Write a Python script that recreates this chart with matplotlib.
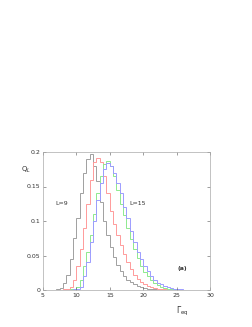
import numpy as np
import matplotlib
matplotlib.use("Agg")
from matplotlib import pyplot as plt

# histogram bin edges (Gamma_eq), width 0.5
bin_start = 6.0
bin_width = 0.5

q_l9 = [0.0, 0.0005, 0.001, 0.003, 0.010, 0.022, 0.045, 0.075, 0.105, 0.140,
        0.170, 0.190, 0.197, 0.180, 0.158, 0.128, 0.100, 0.080, 0.063, 0.048,
        0.036, 0.027, 0.020, 0.015, 0.011, 0.008, 0.006, 0.004, 0.003, 0.002,
        0.0015, 0.001, 0.0005, 0.0005, 0.0, 0.0, 0.0, 0.0, 0.0, 0.0,
        0.0, 0.0, 0.0, 0.0]
q_l11 = [0.0, 0.0, 0.0, 0.0005, 0.001, 0.002, 0.005, 0.015, 0.035, 0.060,
         0.090, 0.125, 0.160, 0.185, 0.192, 0.185, 0.165, 0.140, 0.115, 0.095,
         0.080, 0.065, 0.052, 0.040, 0.030, 0.022, 0.016, 0.012, 0.009, 0.006,
         0.004, 0.003, 0.002, 0.0015, 0.001, 0.0005, 0.0005, 0.0, 0.0, 0.0,
         0.0, 0.0, 0.0, 0.0]
q_l13 = [0.0, 0.0, 0.0, 0.0, 0.0, 0.0005, 0.001, 0.002, 0.005, 0.015,
         0.035, 0.055, 0.080, 0.110, 0.140, 0.165, 0.182, 0.187, 0.180, 0.165,
         0.145, 0.125, 0.108, 0.090, 0.074, 0.060, 0.046, 0.035, 0.026, 0.020,
         0.014, 0.010, 0.007, 0.005, 0.003, 0.002, 0.0015, 0.001, 0.0005, 0.0005,
         0.0, 0.0, 0.0, 0.0]
q_l15 = [0.0, 0.0, 0.0, 0.0, 0.0, 0.0, 0.0005, 0.001, 0.002, 0.005,
         0.020, 0.040, 0.070, 0.100, 0.130, 0.155, 0.175, 0.184, 0.180, 0.170,
         0.155, 0.140, 0.120, 0.105, 0.085, 0.070, 0.055, 0.045, 0.035, 0.027,
         0.020, 0.015, 0.010, 0.008, 0.006, 0.004, 0.003, 0.002, 0.0015, 0.001,
         0.0005, 0.0005, 0.0, 0.0]

series = [
    (q_l9, "#a0a0a0"),
    (q_l11, "#ff9a9a"),
    (q_l13, "#8eea8e"),
    (q_l15, "#9c9cff"),
]

x_ticks = [5, 10, 15, 20, 25, 30]
y_ticks = [0, 0.05, 0.1, 0.15, 0.2]
y_tick_labels = ["0", "0.05", "0.1", "0.15", "0.2"]


def main() -> None:
    fig = plt.figure(figsize=(2.53, 3.27), dpi=100)
    ax = fig.add_axes([43 / 253, 1 - 290 / 327, 167 / 253, 138 / 327])

    n = len(q_l9)
    edges = bin_start + bin_width * np.arange(n + 1)
    for values, color in series:
        ax.stairs(values, edges, color=color, linewidth=0.7)

    ax.set_xlim(5, 30)
    ax.set_ylim(0, 0.2)
    ax.set_xticks(x_ticks)
    ax.set_yticks(y_ticks)
    ax.set_yticklabels(y_tick_labels)
    ax.tick_params(axis="both", direction="in", length=2.5, width=0.4,
                   labelsize=4.5, colors="#555555", labelcolor="#333333",
                   top=True, right=True, pad=2)
    for spine in ax.spines.values():
        spine.set_color("#aaaaaa")
        spine.set_linewidth(0.5)

    fig.text(21 / 253, 1 - 172 / 327, r"Q$_L$", fontsize=5, color="#333333")
    fig.text(176 / 253, 1 - 313 / 327, r"$\Gamma_{\rm eq}$", fontsize=5.5, color="#333333")
    ax.text(6.8, 0.126, "L=9", fontsize=4.5, color="#333333", va="center")
    ax.text(17.9, 0.126, "L=15", fontsize=4.5, color="#333333", va="center")
    ax.text(25.2, 0.031, "(a)", fontsize=4.5, color="#333333", va="center",
            fontweight="bold")

    fig.savefig("out.png", dpi=100)


if __name__ == "__main__":
    main()
